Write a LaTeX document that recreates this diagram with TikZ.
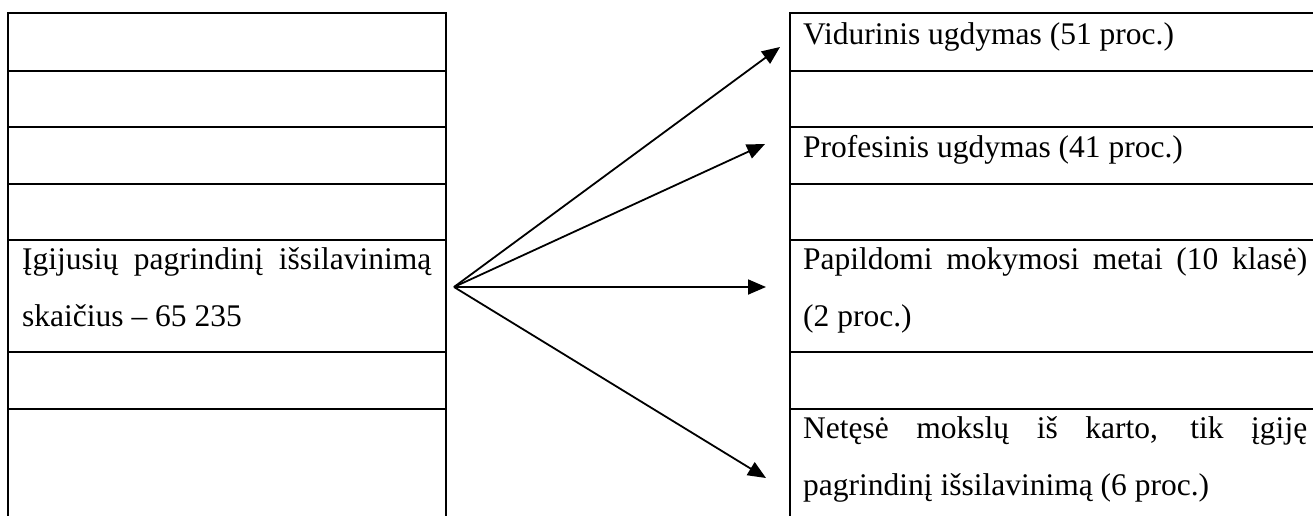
\documentclass[tikz,border=0pt]{standalone}
\usepackage{fontspec}
\setmainfont{Liberation Serif}
\usetikzlibrary{arrows.meta}
\begin{document}
\begin{tikzpicture}[x=1pt,y=-1pt,
  grid/.style={line width=2.2pt},
  conn/.style={line width=1.8pt,-{Triangle[length=18pt,width=15pt]}},
  txt/.style={anchor=base west,inner sep=0pt,font=\fontsize{31.5}{57}\selectfont}]
\useasboundingbox (0,0) rectangle (1313,515);
% left table
\draw[grid] (8,520) -- (8,13) -- (446,13) -- (446,520);
\foreach \yy in {70.7,127.3,184,240,352,408.7}
  \draw[grid] (8,\yy) -- (446,\yy);
% right table
\draw[grid] (790,520) -- (790,13) -- (1320,13);
\foreach \yy in {70.7,127.3,184,240,352,408.7}
  \draw[grid] (790,\yy) -- (1320,\yy);
% texts
\node[txt] (src1) at (22,269) {\makebox[409pt][s]{Įgijusių pagrindinį išsilavinimą}};
\node[txt] (src2) at (22,326) {skaičius – 65 235};
\node[txt] (r1) at (803,44) {Vidurinis ugdymas (51 proc.)};
\node[txt] (r2) at (803,157) {Profesinis ugdymas (41 proc.)};
\node[txt] (r3a) at (803,269) {\makebox[504pt][s]{Papildomi mokymosi metai (10 klasė)}};
\node[txt] (r3b) at (803,326) {(2 proc.)};
\node[txt] (r4a) at (803,438) {\makebox[504pt][s]{Netęsė mokslų iš karto, tik įgiję}};
\node[txt] (r4b) at (803,495) {pagrindinį išsilavinimą (6 proc.)};
% connectors
\coordinate (o) at (454,287);
\coordinate (t1) at (780,47);
\coordinate (t2) at (765,144);
\coordinate (t3) at (766,287);
\coordinate (t4) at (766,478);
\draw[conn] (o) -- (t1);
\draw[conn] (o) -- (t2);
\draw[conn] (o) -- (t3);
\draw[conn] (o) -- (t4);
\end{tikzpicture}
\end{document}
